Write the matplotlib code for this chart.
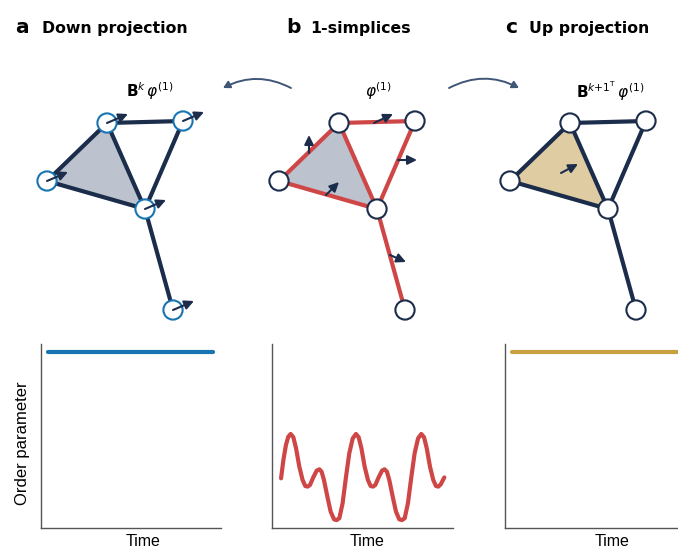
import matplotlib
matplotlib.use('Agg')
import matplotlib.pyplot as plt
from matplotlib.patches import Circle, Polygon, FancyArrowPatch
from matplotlib import font_manager

# simplicial complex layout (panel b, pixel units); panels a and c are shifted copies
node_x = [339, 415, 279, 377, 405]
node_y = [123, 121, 181, 209, 310]
edges = [(0, 1), (0, 2), (0, 3), (1, 3), (2, 3), (3, 4)]
triangle = [0, 2, 3]
panel_shift = {'a': -232, 'b': 0, 'c': 231}

# phi^(1): edge / triangle flows drawn in panel b
flow_tail_x = [374, 309, 398, 326, 390]
flow_tail_y = [123, 153, 160, 195, 255]
flow_tip_x = [393, 309, 417, 339, 406]
flow_tip_y = [114, 135, 160, 182, 262]
# down projection: one vector on every node
node_vec = (21, -9)
# up projection: one vector inside the triangle
tri_tail = (330, 173)
tri_tip = (347, 164)

# order parameter vs time (axes units 0..1)
t_flat = [0.039, 0.956]
op_down = [0.957, 0.957]
op_up = [0.957, 0.957]
t_wave = [0.050, 0.063, 0.077, 0.090, 0.103, 0.118, 0.133, 0.151, 0.169, 0.184,
          0.197, 0.210, 0.228, 0.247, 0.262, 0.274, 0.287, 0.306, 0.324, 0.343,
          0.357, 0.372, 0.390, 0.409, 0.427, 0.446, 0.464, 0.479, 0.494, 0.512,
          0.530, 0.545, 0.558, 0.571, 0.589, 0.608, 0.622, 0.635, 0.648, 0.667,
          0.685, 0.703, 0.718, 0.733, 0.751, 0.770, 0.788, 0.807, 0.825, 0.840,
          0.855, 0.873, 0.891, 0.906, 0.919, 0.932, 0.952]
op_wave = [0.270, 0.370, 0.451, 0.496, 0.511, 0.493, 0.433, 0.333, 0.261, 0.228,
           0.225, 0.234, 0.275, 0.312, 0.319, 0.306, 0.261, 0.170, 0.089, 0.047,
           0.043, 0.053, 0.134, 0.279, 0.406, 0.487, 0.511, 0.493, 0.433, 0.333,
           0.261, 0.228, 0.225, 0.234, 0.275, 0.312, 0.319, 0.306, 0.261, 0.170,
           0.089, 0.047, 0.043, 0.053, 0.134, 0.279, 0.406, 0.487, 0.511, 0.493,
           0.433, 0.333, 0.261, 0.228, 0.225, 0.237, 0.275]

navy = '#1b2d4b'
red = '#cf4646'
blue = '#1874b3'
gold = '#c9a040'
grey_fill = '#bcc3ce'
tan_fill = '#e0cca3'
arc_col = '#3f5677'

names = {f.name for f in font_manager.fontManager.ttflist}
narrow = 'Liberation Sans Narrow' if 'Liberation Sans Narrow' in names else 'Liberation Sans'

fig = plt.figure(figsize=(6.78, 5.49), dpi=100)
ax = fig.add_axes([0, 0, 1, 1])
ax.set_xlim(0, 678)
ax.set_ylim(549, 0)
ax.axis('off')


def arrow(x0, y0, x1, y1, z=6):
    ax.annotate('', xy=(x1, y1), xytext=(x0, y0),
                arrowprops=dict(arrowstyle='-|>,head_length=0.55,head_width=0.27',
                                color=navy, lw=1.5, shrinkA=0, shrinkB=0),
                zorder=z)


for key in ['a', 'b', 'c']:
    dx = panel_shift[key]
    xs = [x + dx for x in node_x]
    fill = tan_fill if key == 'c' else grey_fill
    ax.add_patch(Polygon([(xs[i], node_y[i]) for i in triangle], closed=True,
                         facecolor=fill, edgecolor='none', zorder=1))
    ecol = red if key == 'b' else navy
    for i, j in edges:
        ax.plot([xs[i], xs[j]], [node_y[i], node_y[j]], color=ecol, lw=3.0,
                solid_capstyle='round', zorder=2)
    ncol = blue if key == 'a' else navy
    for x, y in zip(xs, node_y):
        ax.add_patch(Circle((x, y), 9.6, facecolor='white', edgecolor=ncol,
                            lw=1.5, zorder=4))
    if key == 'a':
        for x, y in zip(xs, node_y):
            arrow(x, y, x + node_vec[0], y + node_vec[1])
    elif key == 'b':
        for x0, y0, x1, y1 in zip(flow_tail_x, flow_tail_y, flow_tip_x, flow_tip_y):
            arrow(x0, y0, x1, y1)
    else:
        arrow(tri_tail[0] + dx, tri_tail[1], tri_tip[0] + dx, tri_tip[1])

# panel headers
hdr = dict(fontfamily='DejaVu Sans', fontweight='bold', va='baseline')
ax.text(15, 33, 'a', fontsize=14.5, **hdr)
ax.text(42, 33, 'Down projection', fontsize=11.3, **hdr)
ax.text(286, 33, 'b', fontsize=14.5, **hdr)
ax.text(310, 33, '1-simplices', fontsize=11.3, **hdr)
ax.text(505, 33, 'c', fontsize=14.5, **hdr)
ax.text(529, 33, 'Up projection', fontsize=11.3, **hdr)

# operator labels
ax.text(150, 91, r'$\mathbf{B}^{k}\,\varphi^{(1)}$', fontsize=11, ha='center', va='center')
ax.text(379, 91, r'$\varphi^{(1)}$', fontsize=11, ha='center', va='center')
ax.text(610, 91, r'$\mathbf{B}^{k{+}1^{\mathrm{T}}}\,\varphi^{(1)}$', fontsize=11,
        ha='center', va='center')

# curved arrows between panels
ax.add_patch(FancyArrowPatch((291, 88), (223, 88), connectionstyle='arc3,rad=0.26',
                             arrowstyle='-|>,head_length=4,head_width=2.2',
                             color=arc_col, lw=1.4, shrinkA=0, shrinkB=0))
ax.add_patch(FancyArrowPatch((449, 88), (519, 88), connectionstyle='arc3,rad=-0.26',
                             arrowstyle='-|>,head_length=4,head_width=2.2',
                             color=arc_col, lw=1.4, shrinkA=0, shrinkB=0))

# order parameter panels
boxes = [[41 / 678, 21 / 549, 180 / 678, 184 / 549],
         [272 / 678, 21 / 549, 181 / 678, 184 / 549],
         [505 / 678, 21 / 549, 180 / 678, 184 / 549]]
time_x = [0.567, 0.525, 0.594]
series = [(t_flat, op_down, blue), (t_wave, op_wave, red), (t_flat, op_up, gold)]
for k, (box, (tx, ty, col)) in enumerate(zip(boxes, series)):
    b = fig.add_axes(box)
    b.set_xlim(0, 1)
    b.set_ylim(0, 1)
    b.plot(tx, ty, color=col, lw=3.0, solid_capstyle='round',
           solid_joinstyle='round', clip_on=False)
    b.set_xticks([])
    b.set_yticks([])
    for s in ['top', 'right']:
        b.spines[s].set_visible(False)
    for s in ['left', 'bottom']:
        b.spines[s].set_color('#555555')
        b.spines[s].set_linewidth(1.0)
    b.patch.set_alpha(0)
    b.text(time_x[k], -0.075, 'Time', transform=b.transAxes, ha='center',
           va='center', fontsize=11.5, fontfamily=narrow)
    if k == 0:
        b.text(-0.105, 0.46, 'Order parameter', transform=b.transAxes,
               rotation=90, ha='center', va='center', fontsize=12,
               fontfamily='Liberation Sans')

fig.savefig('out.png', dpi=100)
